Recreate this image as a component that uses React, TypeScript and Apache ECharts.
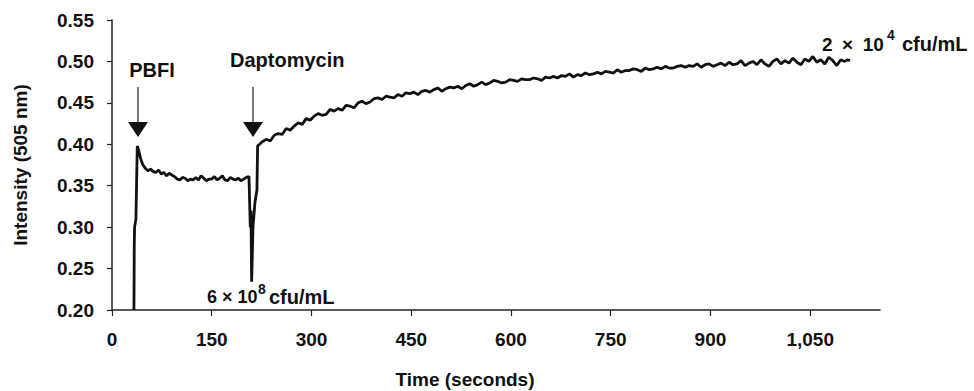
import React, { useEffect, useRef } from "react";
import * as echarts from "echarts";

const FONT = "'Liberation Sans', Arial, Helvetica, sans-serif";

// x tick labels (seconds)
const xTicks = [0, 150, 300, 450, 600, 750, 900, 1050];
// y tick labels (intensity)
const yTicks = [0.2, 0.25, 0.3, 0.35, 0.4, 0.45, 0.5, 0.55];

// PBFI addition and equilibration
const phase1Time = [33, 33.5, 34, 36, 38, 40, 43, 46, 50, 54, 58, 62, 66, 70, 74, 78, 82, 86, 90, 94, 98, 102, 106, 110, 114, 118, 122, 126, 130, 134, 138, 142, 146, 150, 154, 158, 162, 166, 170, 174, 178, 182, 186, 190, 194, 198, 202, 206];
const phase1Value = [0.2, 0.28, 0.3, 0.31, 0.398, 0.393, 0.383, 0.376, 0.371, 0.368, 0.37, 0.367, 0.366, 0.369, 0.364, 0.366, 0.362, 0.365, 0.363, 0.361, 0.358, 0.357, 0.36, 0.359, 0.356, 0.358, 0.357, 0.36, 0.357, 0.362, 0.359, 0.356, 0.358, 0.358, 0.361, 0.357, 0.359, 0.362, 0.357, 0.356, 0.36, 0.358, 0.357, 0.359, 0.356, 0.358, 0.36, 0.361];

// daptomycin addition dip
const phase2Time = [207, 208, 209, 210, 212, 215, 218, 219, 222];
const phase2Value = [0.33, 0.3, 0.32, 0.234, 0.3, 0.33, 0.345, 0.398, 0.4];

// slow rise afterwards
const phase3Time = [226, 232, 238, 244, 250, 256, 262, 268, 274, 280, 286, 292, 298, 304, 310, 316, 322, 328, 334, 340, 346, 352, 358, 364, 370, 376, 382, 388, 394, 400, 406, 412, 418, 424, 430, 436, 442, 448, 454, 460, 466, 472, 478, 484, 490, 496, 502, 508, 514, 520, 526, 532, 538, 544, 550, 556, 562, 568, 574, 580, 586, 592, 598, 604, 610, 616, 622, 628, 634, 640, 646, 652, 658, 664, 670, 676, 682, 688, 694, 700, 706, 712, 718, 724, 730, 736, 742, 748, 754, 760, 766, 772, 778, 784, 790, 796, 802, 808, 814, 820, 826, 832, 838, 844, 850, 856, 862, 868, 874, 880, 886, 892, 898, 904, 910, 916, 922, 928, 934, 940, 946, 952, 958, 964, 970, 976, 982, 988, 994, 1000, 1006, 1012, 1018, 1024, 1030, 1036, 1042, 1048, 1054, 1060, 1066, 1072, 1078, 1084, 1090, 1096, 1102, 1106, 1110];
const phase3Value = [0.403, 0.406, 0.404, 0.411, 0.413, 0.412, 0.419, 0.417, 0.422, 0.426, 0.424, 0.431, 0.429, 0.434, 0.437, 0.435, 0.436, 0.442, 0.44, 0.443, 0.441, 0.447, 0.446, 0.444, 0.45, 0.452, 0.449, 0.451, 0.455, 0.456, 0.454, 0.458, 0.457, 0.456, 0.46, 0.458, 0.462, 0.461, 0.463, 0.46, 0.464, 0.465, 0.463, 0.466, 0.468, 0.464, 0.467, 0.469, 0.468, 0.47, 0.467, 0.471, 0.473, 0.47, 0.472, 0.475, 0.472, 0.474, 0.477, 0.476, 0.474, 0.475, 0.478, 0.477, 0.476, 0.479, 0.478, 0.478, 0.48, 0.479, 0.477, 0.481, 0.48, 0.482, 0.48, 0.483, 0.482, 0.485, 0.481, 0.484, 0.483, 0.486, 0.484, 0.485, 0.487, 0.485, 0.488, 0.487, 0.486, 0.49, 0.487, 0.489, 0.489, 0.491, 0.49, 0.488, 0.492, 0.49, 0.491, 0.493, 0.491, 0.494, 0.492, 0.492, 0.494, 0.495, 0.493, 0.495, 0.494, 0.497, 0.493, 0.496, 0.497, 0.494, 0.496, 0.498, 0.495, 0.499, 0.496, 0.497, 0.501, 0.495, 0.498, 0.5, 0.496, 0.502, 0.497, 0.494, 0.5, 0.503, 0.497, 0.501, 0.498, 0.504, 0.499, 0.496, 0.503, 0.5, 0.506, 0.499, 0.502, 0.497, 0.505, 0.501, 0.495, 0.502, 0.5, 0.502, 0.501];

export default function App() {
  const ref = useRef<HTMLDivElement>(null);
  useEffect(() => {
    if (!ref.current) return;
    const chart = echarts.init(ref.current, null, { renderer: "svg" });
    const times = [...phase1Time, ...phase2Time, ...phase3Time];
    const values = [...phase1Value, ...phase2Value, ...phase3Value];
    const data = times.map((t, i) => [t, values[i]]);
    const txt = { fontFamily: FONT, fontWeight: "bold" as const, fill: "#111" };
    chart.setOption({
      animation: false,
      backgroundColor: "#fff",
      grid: { left: 112, right: 94, top: 20, bottom: 81, containLabel: false },
      xAxis: {
        type: "value",
        min: 0,
        max: 1155,
        interval: 150,
        splitLine: { show: false },
        axisLine: { show: true, onZero: false, lineStyle: { color: "#222", width: 1.5 } },
        axisTick: { show: true, inside: false, length: 6, lineStyle: { color: "#222", width: 1.2 } },
        axisLabel: {
          showMaxLabel: false,
          margin: 20,
          color: "#111",
          fontFamily: FONT,
          fontWeight: "bold",
          fontSize: 19,
          formatter: (v: number) => (xTicks.includes(v) ? v.toLocaleString("en-US") : ""),
        },
      },
      yAxis: {
        type: "value",
        min: 0.2,
        max: 0.55,
        interval: 0.05,
        splitLine: { show: false },
        axisLine: { show: true, lineStyle: { color: "#222", width: 1.5 } },
        axisTick: { show: true, inside: false, length: 5, lineStyle: { color: "#222", width: 1.2 } },
        axisLabel: {
          margin: 18,
          color: "#111",
          fontFamily: FONT,
          fontWeight: "bold",
          fontSize: 19,
          formatter: (v: number) => {
            const f = v.toFixed(2);
            return yTicks.some((t) => t.toFixed(2) === f) ? f : "";
          },
        },
        name: "Intensity (505 nm)",
        nameLocation: "middle",
        nameGap: 82,
        nameTextStyle: { color: "#111", fontFamily: FONT, fontWeight: "bold", fontSize: 19 },
      },
      series: [
        {
          type: "line",
          data,
          showSymbol: false,
          lineStyle: { color: "#111", width: 2.8 },
          clip: false,
        },
      ],
      graphic: [
        { type: "text", x: 465, y: 379, style: { ...txt, text: "Time (seconds)", fontSize: 19, align: "center", verticalAlign: "middle" } },
        { type: "text", x: 152, y: 70, style: { ...txt, text: "PBFI", fontSize: 20, align: "center", verticalAlign: "middle" } },
        { type: "text", x: 230, y: 60, style: { ...txt, text: "Daptomycin", fontSize: 20, align: "left", verticalAlign: "middle" } },
        { type: "line", shape: { x1: 138, y1: 87, x2: 138, y2: 124 }, style: { stroke: "#222", lineWidth: 1.2 } },
        { type: "polygon", shape: { points: [[128, 122], [148, 122], [138, 137]] }, style: { fill: "#111" } },
        { type: "line", shape: { x1: 253, y1: 87, x2: 253, y2: 124 }, style: { stroke: "#222", lineWidth: 1.2 } },
        { type: "polygon", shape: { points: [[243, 122], [263, 122], [253, 137]] }, style: { fill: "#111" } },
        { type: "text", x: 207, y: 297, style: { ...txt, text: "6 × 10", fontSize: 18, align: "left", verticalAlign: "middle" } },
        { type: "text", x: 258, y: 289, style: { ...txt, text: "8", fontSize: 14, align: "left", verticalAlign: "middle" } },
        { type: "text", x: 269, y: 297, style: { ...txt, text: "cfu/mL", fontSize: 20, align: "left", verticalAlign: "middle" } },
        { type: "text", x: 822, y: 44, style: { ...txt, text: "2\u2002×\u200210", fontSize: 19, align: "left", verticalAlign: "middle" } },
        { type: "text", x: 887, y: 35, style: { ...txt, text: "4", fontSize: 14, align: "left", verticalAlign: "middle" } },
        { type: "text", x: 902, y: 44, style: { ...txt, text: "cfu/mL", fontSize: 20, align: "left", verticalAlign: "middle" } },
      ],
    });
    return () => chart.dispose();
  }, []);
  return (
    <div
      ref={ref}
      style={{ position: "fixed", left: 0, top: 0, width: 974, height: 391, background: "#fff" }}
    />
  );
}
